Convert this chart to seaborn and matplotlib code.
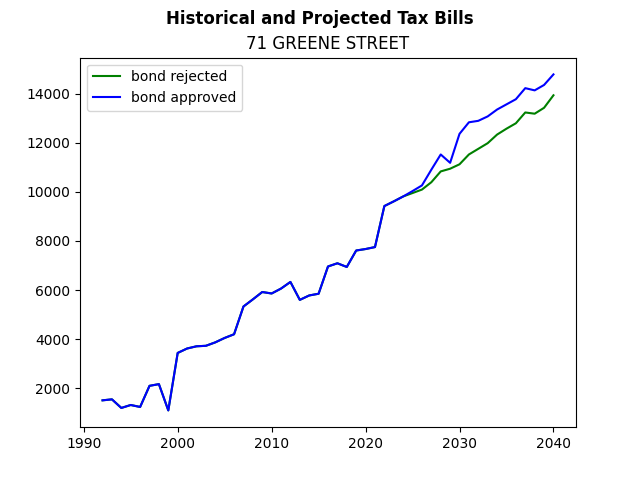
import matplotlib
matplotlib.use('Agg')
import seaborn as sns
import matplotlib.pyplot as plt

# tax bills 1992-2024 (same for both scenarios)
hist_years = list(range(1992, 2025))
hist_bills = [1510, 1550, 1200, 1320, 1240, 2100, 2170, 1100, 3440, 3620,
              3710, 3730, 3870, 4050, 4200, 5330, 5620, 5920, 5860, 6060,
              6330, 5600, 5780, 5850, 6960, 7090, 6940, 7610, 7670, 7750,
              9420, 9610, 9810]

# projections 2025-2040
proj_years = list(range(2025, 2041))
rejected = [9950, 10090, 10390, 10830, 10940, 11120, 11520, 11750,
            11980, 12330, 12570, 12790, 13230, 13180, 13420, 13930]
approved = [10030, 10260, 10900, 11520, 11180, 12360, 12830, 12890,
            13070, 13350, 13560, 13770, 14220, 14130, 14350, 14780]

years = hist_years + proj_years
bills_rejected = hist_bills + rejected
bills_approved = hist_bills + approved


def tax_bills():
    fig, ax = plt.subplots(figsize=(6.4, 4.8), dpi=100)
    sns.lineplot(x=years, y=bills_rejected, color='green', label='bond rejected', ax=ax)
    sns.lineplot(x=years, y=bills_approved, color='blue', label='bond approved', ax=ax)
    fig.suptitle('Historical and Projected Tax Bills', fontweight='bold')
    ax.set_title('71 GREENE STREET')
    ax.legend(loc='upper left')
    plt.savefig('out.png')


if __name__ == '__main__':
    tax_bills()
